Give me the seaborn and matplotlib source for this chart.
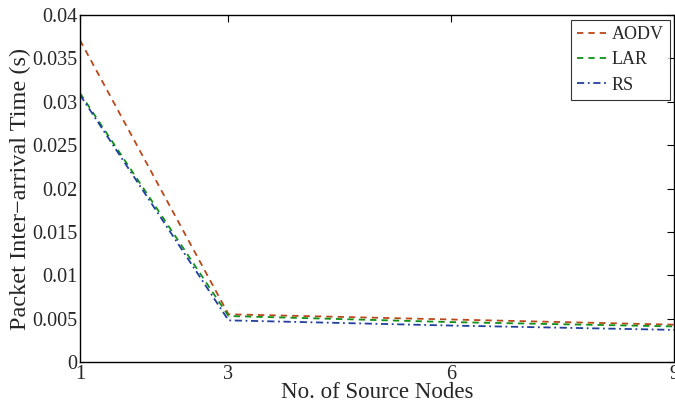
import matplotlib
matplotlib.use("Agg")
import matplotlib.pyplot as plt
import seaborn as sns
import pandas as pd

x_nodes = [1, 3, 6, 9]
aodv = [0.0371, 0.0055, 0.0049, 0.0043]
lar = [0.0310, 0.0053, 0.0046, 0.0041]
rs = [0.0308, 0.0048, 0.0042, 0.0037]
series_names = ["AODV", "LAR", "RS"]
y_ticks = [0, 0.005, 0.01, 0.015, 0.02, 0.025, 0.03, 0.035, 0.04]
y_tick_labels = ["0", "0.005", "0.01", "0.015", "0.02", "0.025", "0.03", "0.035", "0.04"]
x_ticks = [1, 3, 6, 9]

sns.set_style("white")
plt.rcParams["font.family"] = ["Liberation Serif", "DejaVu Serif"]

fig = plt.figure(figsize=(6.75, 4.07), dpi=100)
ax = fig.add_axes([0.1185, 0.1106, 0.880, 0.8524])

colors = ["#b8481a", "#109018", "#22409e"]
styles = [(0, (3.5, 2.8)), (0, (3.5, 2.8)), (0, (4, 2, 1, 2))]
for name, vals, c, ls in zip(series_names, [aodv, lar, rs], colors, styles):
    df = pd.DataFrame({"x": x_nodes, "y": vals})
    sns.lineplot(data=df, x="x", y="y", ax=ax, color=c, linestyle=ls, linewidth=1.3, label=name)

ax.set_xlim(1, 9)
ax.set_ylim(0, 0.04)
ax.set_xticks(x_ticks)
ax.set_xticklabels([str(v) for v in x_ticks])
ax.set_yticks(y_ticks)
ax.set_yticklabels(y_tick_labels)
ax.tick_params(direction="in", top=True, right=True, labelsize=14.5, length=5, width=0.8, color="black", pad=2)
for s in ax.spines.values():
    s.set_color("black")
    s.set_linewidth(1.0)
ax.set_xlabel("No. of Source Nodes", fontsize=16.5, labelpad=-1)
ax.set_ylabel("Packet Inter\u2212arrival Time (s)", fontsize=17.5, labelpad=1)

leg = ax.legend(loc="upper right", fontsize=13, frameon=True, fancybox=False, edgecolor="black",
                handlelength=1.75, handletextpad=0.15, borderpad=0.35, labelspacing=0.45,
                borderaxespad=0, bbox_to_anchor=(0.9933, 0.9856))
leg.get_frame().set_linewidth(0.8)

fig.savefig("out.png", dpi=100)
